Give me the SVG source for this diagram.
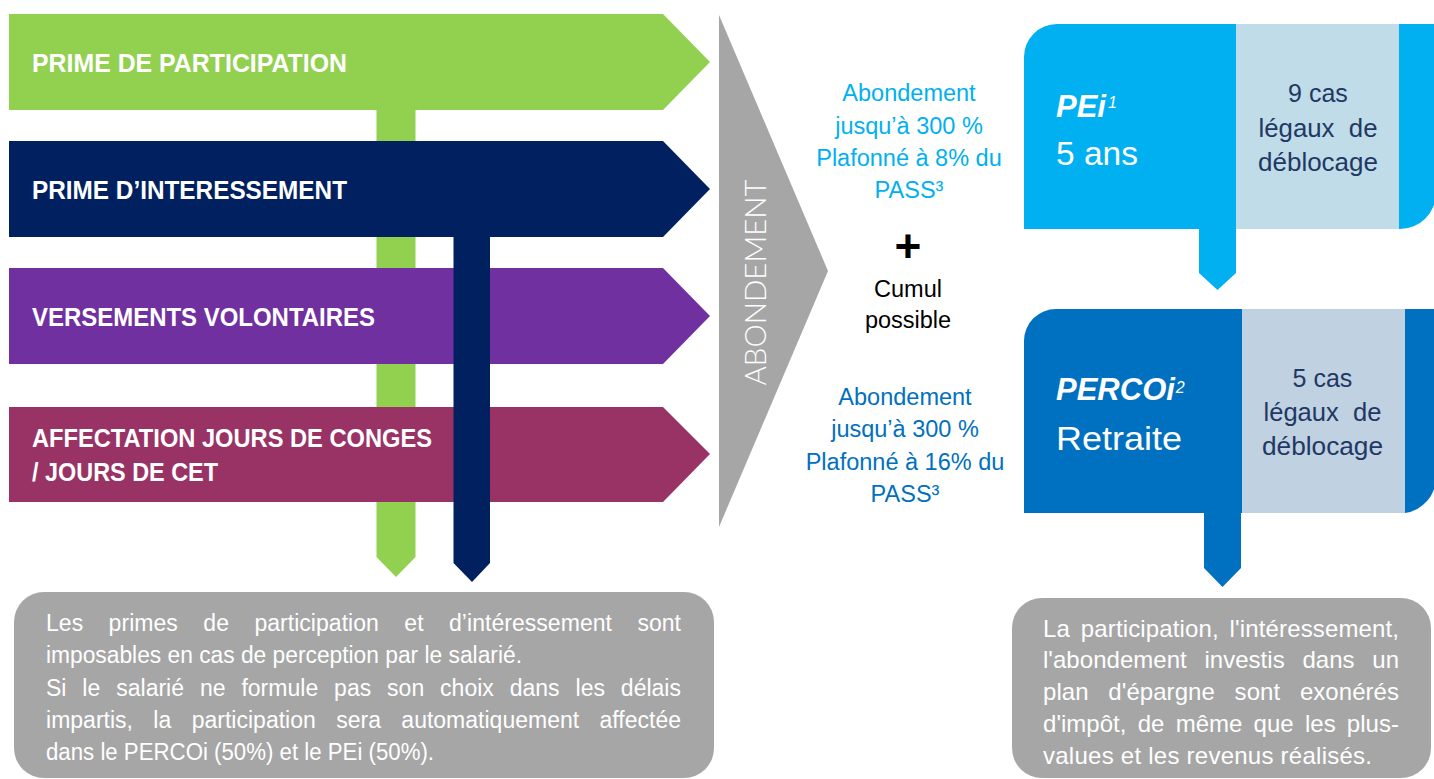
<svg xmlns="http://www.w3.org/2000/svg" width="1434" height="779" viewBox="0 0 1434 779">
<defs>
<style>
.sans{font-family:"Liberation Sans",Arial,sans-serif}
.lbl{font-family:"Liberation Sans",Arial,sans-serif;font-weight:700;font-size:26px;fill:#ffffff}
.mid{font-family:"Liberation Sans",Arial,sans-serif;font-size:23.5px;text-anchor:middle}
.c1{fill:#00B0F0}
.c2{fill:#0070C0}
.blk{fill:#000000}
.title{font-family:"Liberation Sans",Arial,sans-serif;font-weight:700;font-style:italic;font-size:31px;fill:#ffffff}
.sup{font-weight:400;font-size:16px}
.sub{font-family:"Liberation Sans",Arial,sans-serif;font-size:33px;fill:#ffffff}
.cas{font-family:"Liberation Sans",Arial,sans-serif;font-size:25px;fill:#1F3864;text-anchor:middle}
.note{font-family:"Liberation Sans",Arial,sans-serif;font-size:23px;fill:#ffffff}
.note2{font-family:"Liberation Sans",Arial,sans-serif;font-size:24px;fill:#ffffff}
.gray{fill:#A6A6A6}
</style>
</defs>
<rect x="0" y="0" width="1434" height="779" fill="#ffffff"/>

<g id="prime-participation">
<polygon points="9,14 663,14 710,62 663,110 9,110" fill="#92D050"/>
<text class="lbl" x="32" y="72" textLength="315" lengthAdjust="spacingAndGlyphs">PRIME DE PARTICIPATION</text>
</g>
<g id="prime-interessement">
<polygon points="9,141 663,141 710,189 663,237 9,237" fill="#002060"/>
<text class="lbl" x="32" y="199" textLength="315" lengthAdjust="spacingAndGlyphs">PRIME D’INTERESSEMENT</text>
</g>
<g id="versements-volontaires">
<polygon points="9,268 663,268 710,316 663,364 9,364" fill="#7030A0"/>
<text class="lbl" x="32" y="326" textLength="343" lengthAdjust="spacingAndGlyphs">VERSEMENTS VOLONTAIRES</text>
</g>
<g id="affectation-conges">
<polygon points="9,407 663,407 710,454 663,502 9,502" fill="#993366"/>
<text class="lbl" x="32" y="447" textLength="400" lengthAdjust="spacingAndGlyphs">AFFECTATION JOURS DE CONGES</text>
<text class="lbl" x="32" y="481" textLength="186" lengthAdjust="spacingAndGlyphs">/ JOURS DE CET</text>
</g>

<g id="connectors">
<path fill="#92D050" d="M376.5,110 H415.5 V141 H376.5 Z M376.5,237 H415.5 V268 H376.5 Z M376.5,364 H415.5 V407 H376.5 Z M376.5,502 H415.5 V557 L396,577 L376.5,557 Z"/>
<path fill="#002060" d="M453.5,236 H490 V563 L472,582 L453.5,563 Z"/>
</g>

<g id="abondement">
<polygon class="gray" points="719,15 828,271 719,527"/>
<text transform="translate(766,282.5) rotate(-90)" x="0" y="0" text-anchor="middle" font-family="Lato,'Liberation Sans',Arial,sans-serif" font-weight="300" font-size="30" fill="#ffffff" textLength="206" lengthAdjust="spacingAndGlyphs">ABONDEMENT</text>
</g>

<g id="abondement-pei">
<text class="mid c1" x="909" y="101">Abondement</text>
<text class="mid c1" x="909" y="134">jusqu’à 300 %</text>
<text class="mid c1" x="909" y="166">Plafonné à 8% du</text>
<text class="mid c1" x="909" y="198">PASS³</text>
</g>
<g id="cumul">
<text class="sans blk" x="908" y="262" text-anchor="middle" font-weight="700" font-size="46">+</text>
<text class="mid blk" x="908" y="297">Cumul</text>
<text class="mid blk" x="908" y="328">possible</text>
</g>
<g id="abondement-percoi">
<text class="mid c2" x="905" y="405">Abondement</text>
<text class="mid c2" x="905" y="437">jusqu’à 300 %</text>
<text class="mid c2" x="905" y="470">Plafonné à 16% du</text>
<text class="mid c2" x="905" y="502">PASS³</text>
</g>

<g id="pei">
<path fill="#00B0F0" d="M1024,229 V57 A33,33 0 0 1 1057,24 H1436 V193 A36,36 0 0 1 1400,229 H1236 V273 L1217.5,290 L1199,273 V229 Z"/>
<rect x="1236" y="24" width="163" height="205" fill="#BFDCE8"/>
<text class="title" x="1056" y="117">PEi<tspan class="sup" dx="2" dy="-9">1</tspan></text>
<text class="sub" x="1056" y="165" textLength="82" lengthAdjust="spacingAndGlyphs">5 ans</text>
<text class="cas" x="1318" y="102">9 cas</text>
<text class="cas" x="1318" y="137" textLength="119" lengthAdjust="spacingAndGlyphs">légaux&#160; de</text>
<text class="cas" x="1318" y="171" textLength="120" lengthAdjust="spacingAndGlyphs">déblocage</text>
</g>

<g id="percoi">
<path fill="#0070C0" d="M1024,513 V341 A32,32 0 0 1 1056,309 H1436 V477 A36,36 0 0 1 1405,513 H1241 V568 L1222.5,587 L1204,568 V513 Z"/>
<rect x="1242" y="309" width="163" height="204" fill="#C0D1E2"/>
<text class="title" x="1056" y="400">PERCOi<tspan class="sup" dx="1" dy="-7">2</tspan></text>
<text class="sub" x="1056" y="450" textLength="126" lengthAdjust="spacingAndGlyphs">Retraite</text>
<text class="cas" x="1322.5" y="387">5 cas</text>
<text class="cas" x="1322.5" y="421" textLength="118" lengthAdjust="spacingAndGlyphs">légaux&#160; de</text>
<text class="cas" x="1322.5" y="455" textLength="121" lengthAdjust="spacingAndGlyphs">déblocage</text>
</g>

<g id="note-imposition">
<rect class="gray" x="14" y="592" width="700" height="186" rx="30" ry="30"/>
<text class="note" x="46" y="631" word-spacing="19" textLength="635">Les primes de participation et d’intéressement sont</text>
<text class="note" x="46" y="663" textLength="476" lengthAdjust="spacingAndGlyphs">imposables en cas de perception par le salarié.</text>
<text class="note" x="46" y="696" word-spacing="9.5" textLength="635">Si le salarié ne formule pas son choix dans les délais</text>
<text class="note" x="46" y="728" word-spacing="14" textLength="635">impartis, la participation sera automatiquement affectée</text>
<text class="note" x="46" y="760" textLength="388" lengthAdjust="spacingAndGlyphs">dans le PERCOi (50%) et le PEi (50%).</text>
</g>

<g id="note-exoneration">
<rect class="gray" x="1012" y="598" width="419" height="180" rx="30" ry="30"/>
<text class="note2" x="1043" y="637" word-spacing="4" textLength="356">La participation, l'intéressement,</text>
<text class="note2" x="1043" y="668" word-spacing="11" textLength="356">l'abondement investis dans un</text>
<text class="note2" x="1043" y="700" word-spacing="13" textLength="356">plan d'épargne sont exonérés</text>
<text class="note2" x="1043" y="732" word-spacing="4.5" textLength="356">d'impôt, de même que les plus-</text>
<text class="note2" x="1043" y="764" textLength="329">values et les revenus réalisés.</text>
</g>
</svg>
